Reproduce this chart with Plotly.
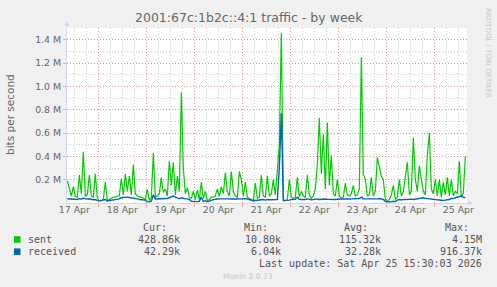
import plotly.graph_objects as go
import pandas as pd

# ---- data (hourly samples, values in Mbit/s) ----
start_time = "2026-04-17 08:30"
sent_M = [
    0.19, 0.12, 0.06, 0.14, 0.06, 0.05, 0.24, 0.08, 0.44, 0.06,
    0.07, 0.24, 0.06, 0.05, 0.25, 0.04, 0.02, 0.02, 0.03, 0.18,
    0.02, 0.03, 0.04, 0.05, 0.05, 0.06, 0.06, 0.21, 0.07, 0.25,
    0.10, 0.23, 0.07, 0.33, 0.08, 0.06, 0.05, 0.05, 0.04, 0.03,
    0.12, 0.02, 0.05, 0.43, 0.05, 0.06, 0.08, 0.22, 0.09, 0.12,
    0.06, 0.36, 0.15, 0.35, 0.07, 0.23, 0.10, 0.95, 0.30, 0.08,
    0.13, 0.05, 0.04, 0.10, 0.03, 0.11, 0.03, 0.18, 0.04, 0.10,
    0.02, 0.03, 0.05, 0.05, 0.06, 0.12, 0.06, 0.14, 0.08, 0.26,
    0.10, 0.06, 0.27, 0.10, 0.06, 0.05, 0.27, 0.20, 0.06, 0.18,
    0.05, 0.04, 0.03, 0.02, 0.17, 0.04, 0.05, 0.24, 0.06, 0.05,
    0.23, 0.06, 0.08, 0.20, 0.07, 0.26, 0.50, 1.46, 0.03, 0.02,
    0.03, 0.20, 0.05, 0.04, 0.05, 0.22, 0.05, 0.10, 0.06, 0.05,
    0.24, 0.07, 0.04, 0.06, 0.12, 0.33, 0.73, 0.25, 0.59, 0.12,
    0.69, 0.15, 0.41, 0.08, 0.06, 0.20, 0.06, 0.04, 0.05, 0.17,
    0.07, 0.06, 0.08, 0.15, 0.06, 0.07, 0.12, 1.25, 0.25, 0.20,
    0.06, 0.07, 0.22, 0.06, 0.10, 0.39, 0.32, 0.23, 0.20, 0.03,
    0.02, 0.03, 0.07, 0.15, 0.03, 0.05, 0.20, 0.06, 0.10, 0.24,
    0.35, 0.07, 0.10, 0.56, 0.20, 0.10, 0.32, 0.20, 0.10, 0.07,
    0.41, 0.60, 0.12, 0.08, 0.20, 0.06, 0.20, 0.05, 0.18, 0.07,
    0.22, 0.06, 0.20, 0.06, 0.10, 0.08, 0.36, 0.05, 0.08, 0.40,
]
received_M = [
    0.036, 0.035, 0.034, 0.036, 0.035, 0.030, 0.037, 0.035, 0.040, 0.034,
    0.033, 0.036, 0.030, 0.028, 0.030, 0.020, 0.018, 0.020, 0.022, 0.030,
    0.018, 0.020, 0.022, 0.025, 0.028, 0.032, 0.035, 0.045, 0.048, 0.050,
    0.050, 0.047, 0.045, 0.042, 0.040, 0.035, 0.030, 0.030, 0.028, 0.025,
    0.012, 0.010, 0.015, 0.070, 0.035, 0.036, 0.038, 0.035, 0.035, 0.040,
    0.038, 0.045, 0.055, 0.060, 0.050, 0.040, 0.036, 0.045, 0.038, 0.035,
    0.035, 0.030, 0.015, 0.012, 0.010, 0.012, 0.015, 0.050, 0.012, 0.020,
    0.012, 0.015, 0.025, 0.030, 0.032, 0.034, 0.035, 0.036, 0.034, 0.035,
    0.038, 0.035, 0.034, 0.036, 0.035, 0.034, 0.035, 0.036, 0.040, 0.036,
    0.034, 0.030, 0.020, 0.020, 0.022, 0.025, 0.028, 0.030, 0.030, 0.025,
    0.030, 0.028, 0.030, 0.030, 0.032, 0.030, 0.300, 0.770, 0.020, 0.020,
    0.022, 0.025, 0.030, 0.030, 0.032, 0.050, 0.032, 0.030, 0.028, 0.030,
    0.035, 0.030, 0.028, 0.030, 0.032, 0.035, 0.030, 0.033, 0.030, 0.034,
    0.032, 0.030, 0.028, 0.030, 0.030, 0.032, 0.030, 0.034, 0.035, 0.033,
    0.032, 0.034, 0.035, 0.036, 0.038, 0.040, 0.038, 0.050, 0.036, 0.035,
    0.034, 0.036, 0.035, 0.037, 0.036, 0.035, 0.038, 0.035, 0.030, 0.015,
    0.010, 0.012, 0.010, 0.015, 0.012, 0.025, 0.030, 0.028, 0.030, 0.032,
    0.030, 0.035, 0.033, 0.030, 0.032, 0.038, 0.040, 0.042, 0.045, 0.040,
    0.038, 0.036, 0.035, 0.030, 0.028, 0.025, 0.025, 0.020, 0.022, 0.025,
    0.028, 0.030, 0.040, 0.038, 0.045, 0.050, 0.055, 0.060, 0.050, 0.045,
]
series_names = ["sent", "received"]
series_colors = ["#00CC00", "#0066B3"]
legend_cur = ["428.86k", "42.29k"]
legend_min = ["10.80k", "6.04k"]
legend_avg = ["115.32k", "32.28k"]
legend_max = ["4.15M", "916.37k"]
day_labels = ["17 Apr", "18 Apr", "19 Apr", "20 Apr", "21 Apr", "22 Apr", "23 Apr", "24 Apr", "25 Apr"]
y_tick_vals = [0.2e6, 0.4e6, 0.6e6, 0.8e6, 1.0e6, 1.2e6, 1.4e6]
y_tick_text = ["0.2 M", "0.4 M", "0.6 M", "0.8 M", "1.0 M", "1.2 M", "1.4 M"]
title_text = "2001:67c:1b2c::4:1 traffic - by week"
last_update = "Last update: Sat Apr 25 15:30:03 2026"

times = pd.date_range(start_time, periods=len(sent_M), freq="h")
sent = [v * 1e6 for v in sent_M]
received = [v * 1e6 for v in received_M]
noons = pd.date_range("2026-04-17 12:00", periods=len(day_labels), freq="D")
midnights = pd.date_range("2026-04-18 00:00", periods=8, freq="D")

W, H = 497, 287
ML, MR, MT, MB = 67, 30, 28, 84
PW, PH = W - ML - MR, H - MT - MB


def px(x):
    return (x - ML) / PW


def py(y):
    return (H - MB - y) / PH


AXIS = "#CFD6F8"
FONT = "#666666"
MGRID = "rgba(225,110,110,0.55)"
GRID = "rgba(140,140,140,0.45)"
DOTS = "1px,2px"

fig = go.Figure()
fig.add_trace(go.Scatter(x=times, y=sent, mode="lines", name=series_names[0],
                         line=dict(color=series_colors[0], width=1.2), xaxis="x", yaxis="y"))
fig.add_trace(go.Scatter(x=times, y=received, mode="lines", name=series_names[1],
                         line=dict(color=series_colors[1], width=1.4), xaxis="x2", yaxis="y"))

xrange = ["2026-04-17 08:20", "2026-04-25 16:20"]

fig.update_layout(
    width=W, height=H,
    margin=dict(l=ML, r=MR, t=MT, b=MB, pad=0),
    paper_bgcolor="#F0F0F0", plot_bgcolor="#FFFFFF",
    showlegend=False,
    font=dict(family="DejaVu Sans", color=FONT, size=9.4),
    xaxis=dict(
        type="date", range=xrange, tickvals=midnights, showticklabels=False,
        showgrid=True, gridcolor=MGRID, griddash=DOTS, gridwidth=1,
        ticks="outside", ticklen=3, tickcolor=MGRID,
        showline=True, linecolor=AXIS, linewidth=1, zeroline=False,
        minor=dict(dtick=6 * 3600 * 1000, tick0="2026-04-17 00:00", showgrid=True,
                   gridcolor=GRID, griddash=DOTS, gridwidth=1, ticks=""),
        fixedrange=True,
    ),
    xaxis2=dict(
        type="date", range=xrange, overlaying="x", anchor="y", side="bottom",
        tickvals=noons, ticktext=day_labels, showgrid=False, ticks="",
        showline=False, zeroline=False, tickfont=dict(size=9.4, color=FONT),
        fixedrange=True,
    ),
    yaxis=dict(
        range=[0, 1.5e6], tickvals=y_tick_vals, ticktext=y_tick_text,
        showgrid=True, gridcolor=MGRID, griddash=DOTS, gridwidth=1,
        ticks="outside", ticklen=3, tickcolor=MGRID,
        showline=True, linecolor=AXIS, linewidth=1, zeroline=False,
        minor=dict(dtick=1e5, showgrid=True, gridcolor=GRID, griddash=DOTS, gridwidth=1, ticks=""),
        tickfont=dict(size=9.4, color=FONT),
        fixedrange=True,
    ),
)

ann = []
# title
ann.append(dict(text=title_text, xref="paper", yref="paper", x=px(248.5), y=py(18),
                xanchor="center", yanchor="middle", showarrow=False,
                font=dict(family="DejaVu Sans", size=12.5, color=FONT)))
# y axis title
ann.append(dict(text="bits per second", xref="paper", yref="paper", x=px(10), y=py(115),
                xanchor="center", yanchor="middle", textangle=-90, showarrow=False,
                font=dict(family="DejaVu Sans", size=10.5, color=FONT)))
# rrdtool credit
ann.append(dict(text="RRDTOOL / TOBI OETIKER", xref="paper", yref="paper", x=px(488), y=py(53),
                xanchor="center", yanchor="middle", textangle=90, showarrow=False,
                font=dict(family="DejaVu Sans", size=7, color="#C8C8C8")))
# axis arrows
ann.append(dict(text="", xref="paper", yref="paper", x=px(67), y=py(21), ax=0, ay=8,
                showarrow=True, arrowhead=2, arrowsize=1, arrowwidth=1, arrowcolor=AXIS))
ann.append(dict(text="", xref="paper", yref="paper", x=px(473), y=py(203), ax=-8, ay=0,
                showarrow=True, arrowhead=2, arrowsize=1, arrowwidth=1, arrowcolor=AXIS))

mono = dict(family="DejaVu Sans Mono", size=10, color="#555555")
headers = ["Cur:", "Min:", "Avg:", "Max:"]
header_right = [168, 269, 369, 470]
value_right = [181, 282, 382, 483]
for h, xr in zip(headers, header_right):
    ann.append(dict(text=h, xref="paper", yref="paper", x=px(xr + 1), y=py(227.5),
                    xanchor="right", yanchor="middle", showarrow=False, font=mono))
rows_y = [239.5, 251.7]
cols = [legend_cur, legend_min, legend_avg, legend_max]
shapes = []
for k in range(2):
    ann.append(dict(text=series_names[k], xref="paper", yref="paper", x=px(26), y=py(rows_y[k]),
                    xanchor="left", yanchor="middle", showarrow=False, font=mono))
    for col, xr in zip(cols, value_right):
        ann.append(dict(text=col[k], xref="paper", yref="paper", x=px(xr + 1), y=py(rows_y[k]),
                        xanchor="right", yanchor="middle", showarrow=False, font=mono))
    shapes.append(dict(type="rect", xref="paper", yref="paper",
                       x0=px(14), x1=px(20.5), y0=py(rows_y[k] + 3.3), y1=py(rows_y[k] - 3.3),
                       fillcolor=series_colors[k], line=dict(width=0)))
ann.append(dict(text=last_update, xref="paper", yref="paper", x=px(484), y=py(263.5),
                xanchor="right", yanchor="middle", showarrow=False, font=mono))
ann.append(dict(text="Munin 2.0.73", xref="paper", yref="paper", x=px(248), y=py(276),
                xanchor="center", yanchor="middle", showarrow=False,
                font=dict(family="DejaVu Sans", size=7.6, color="#C8C8C8")))

fig.update_layout(annotations=ann, shapes=shapes)
fig.write_html("out.html", config=dict(displayModeBar=False))
